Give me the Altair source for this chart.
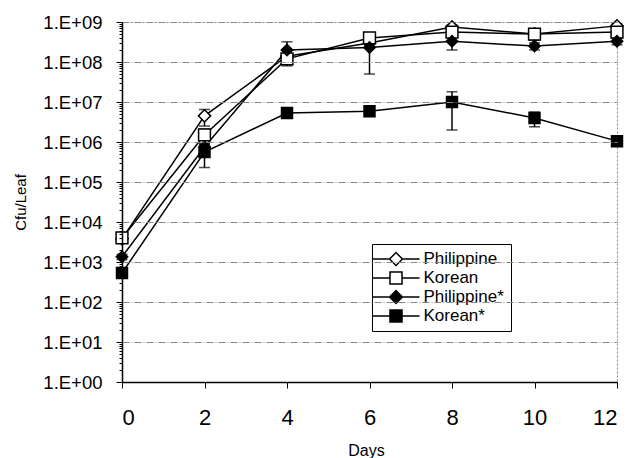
import altair as alt
import pandas as pd

# ---- data ----
days = [0, 2, 4, 6, 8, 10, 12]
series_names = ["Philippine", "Korean", "Philippine*", "Korean*"]

philippine = [3.8e3, 4.5e6, 1.4e8, 3.0e8, 7.5e8, 5.0e8, 8.0e8]
philippine_err = [5e2, 2.0e6, 2e7, 5e7, 1.0e8, 5e7, 1.0e8]

korean = [4.0e3, 1.5e6, 1.2e8, 4.0e8, 5.6e8, 5.0e8, 5.6e8]
korean_err = [1.0e3, 6.0e5, 1.5e7, 5e7, 1.0e8, 1.5e8, 8e7]

philippine_star = [1.35e3, 7.5e5, 2.0e8, 2.3e8, 3.3e8, 2.5e8, 3.3e8]
philippine_star_err = [2e2, 1e5, 1.2e8, 1.8e8, 1.3e8, 5e7, 6e7]

korean_star = [5.3e2, 5.6e5, 5.3e6, 5.9e6, 1.0e7, 4.0e6, 1.05e6]
korean_star_err = [1e2, 3.3e5, 5e5, 7e5, 8e6, 1.6e6, 1.5e5]

y_tick_values = [m * 10 ** k for k in range(0, 9) for m in range(1, 10)] + [1e9]
x_tick_values = [0, 2, 4, 6, 8, 10, 12]

rows = []
for name, vals, errs in zip(
    series_names,
    [philippine, korean, philippine_star, korean_star],
    [philippine_err, korean_err, philippine_star_err, korean_star_err],
):
    for d, v, e in zip(days, vals, errs):
        rows.append({"Day": d, "Series": name, "Value": v,
                     "Lo": max(v - e, 1.0), "Hi": v + e})
df = pd.DataFrame(rows)

FONT = "Liberation Sans"
is_decade = "abs(log(datum.value)/LN10 - round(log(datum.value)/LN10)) < 0.001"

x_enc = alt.X(
    "Day:Q",
    scale=alt.Scale(domain=[0, 12], nice=False, zero=False),
    axis=alt.Axis(
        values=x_tick_values, title="Days", grid=False,
        labelFont=FONT, labelFontSize=22, labelColor="black", labelPadding=19,
        tickSize=6, tickColor="black", domainColor="black", domainWidth=1.5,
        titleFont=FONT, titleFontSize=16, titleFontWeight="normal", titleColor="black",
        titleX=244, titleY=73, titleBaseline="alphabetic", titleAnchor="middle", titleAlign="center",
        zindex=1,
    ),
)
y_scale = alt.Scale(type="log", domain=[1, 1e9], nice=False)
y_enc = alt.Y(
    "Value:Q",
    scale=y_scale,
    axis=alt.Axis(
        values=y_tick_values,
        labelExpr=f"({is_decade}) ? '1.E+' + format(round(log(datum.value)/LN10), '02d') : ''",
        labelOverlap=False, labelBound=False, labelFlush=False,
        labelFont=FONT, labelFontSize=18.5, labelColor="black", labelPadding=14,
        tickSize={"condition": {"test": is_decade, "value": 6}, "value": 3},
        tickColor="black", domainColor="black", domainWidth=1.5,
        grid=True, gridColor="#8a8a8a", gridDash=[7, 2, 1, 2], gridWidth=1,
        gridOpacity={"condition": {"test": is_decade, "value": 1}, "value": 0},
        title="Cfu/Leaf", titleFont=FONT, titleFontSize=15, titleFontWeight="normal",
        titleColor="black", titleAngle=270, titleX=-97, titleY=180,
        titleBaseline="alphabetic", titleAlign="center", titleAnchor="middle",
        zindex=1,
    ),
)

base = alt.Chart(df)

err_rules = base.mark_rule(color="black", strokeWidth=1.5).encode(
    x=x_enc, y=alt.Y("Lo:Q", scale=y_scale), y2="Hi:Q", detail="Series:N"
)
err_caps_lo = base.mark_tick(color="black", orient="horizontal", size=11, thickness=1.5).encode(
    x="Day:Q", y=alt.Y("Lo:Q", scale=y_scale), detail="Series:N"
)
err_caps_hi = base.mark_tick(color="black", orient="horizontal", size=11, thickness=1.5).encode(
    x="Day:Q", y=alt.Y("Hi:Q", scale=y_scale), detail="Series:N"
)

lines = base.mark_line(color="black", strokeWidth=1.5).encode(
    x=x_enc, y=y_enc, detail="Series:N"
)

points = base.mark_point(stroke="black", strokeWidth=1.5, opacity=1).encode(
    x="Day:Q",
    y=alt.Y("Value:Q", scale=y_scale),
    shape=alt.Shape("Series:N", sort=series_names,
                    scale=alt.Scale(domain=series_names,
                                    range=["diamond", "square", "diamond", "square"]),
                    legend=None),
    fill=alt.Fill("Series:N", sort=series_names,
                  scale=alt.Scale(domain=series_names,
                                  range=["white", "white", "black", "black"]),
                  legend=None),
    size=alt.Size("Series:N", scale=alt.Scale(domain=series_names, range=[150, 120, 130, 120]),
                  legend=None),
)

# legend glyphs: line through marker, drawn as filled outlines (units of 6 px)
bars_d = "M-3.92,-0.125H-1.2V0.125H-3.92Z M1.2,-0.125H3.92V0.125H1.2Z "
bars_s = "M-3.92,-0.125H-1.1V0.125H-3.92Z M1.1,-0.125H3.92V0.125H1.1Z "
diamond_outer = "M-1.25,0L0,-1.25L1.25,0L0,1.25Z "
diamond_hole = "M-0.9,0L0,0.9L0.9,0L0,-0.9Z"
square_outer = "M-1.13,-1.13H1.13V1.13H-1.13Z "
square_hole = "M-0.88,-0.88V0.88H0.88V-0.88Z"
legend_glyphs = [
    bars_d + diamond_outer + diamond_hole,
    bars_s + square_outer + square_hole,
    bars_d + diamond_outer,
    bars_s + square_outer,
]

legend_def = alt.Legend(
    orient="none", legendX=250, legendY=222, title=None,
    labelFont=FONT, labelFontSize=17, labelColor="black", labelOffset=19,
    labelExpr="datum.label + '    '",
    symbolSize=144, symbolOffset=9, symbolStrokeWidth=0, symbolOpacity=1,
    strokeColor="black", fillColor="white", padding=6.5, rowPadding=1,
)
legend_layer = base.mark_point(strokeWidth=0, opacity=0).encode(
    x="Day:Q",
    y=alt.Y("Value:Q", scale=y_scale),
    shape=alt.Shape("Series:N", sort=series_names,
                    scale=alt.Scale(domain=series_names, range=legend_glyphs),
                    legend=legend_def),
    fill=alt.Fill("Series:N", sort=series_names,
                  scale=alt.Scale(domain=series_names,
                                  range=["black", "black", "black", "black"]),
                  legend=legend_def),
)

chart = (
    alt.layer(err_rules, err_caps_lo, err_caps_hi, lines, points, legend_layer)
    .resolve_scale(shape="independent", fill="independent", size="independent")
    .properties(width=495, height=360,
                padding={"left": 122, "top": 22, "right": 12, "bottom": 76},
                autosize=alt.AutoSizeParams(type="none"), background="white")
    .configure_view(stroke="#8a8a8a", strokeDash=[2, 2], strokeWidth=1)
)

chart.save("out.html", embed_options={"renderer": "svg", "actions": False})
